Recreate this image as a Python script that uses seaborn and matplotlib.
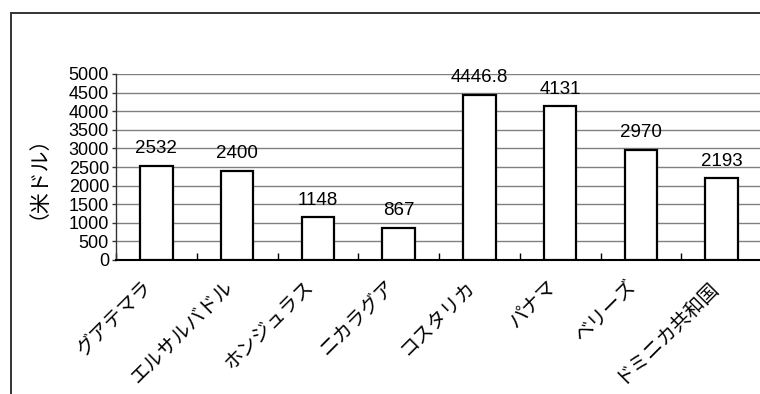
import matplotlib
matplotlib.use("Agg")
import matplotlib.pyplot as plt
import matplotlib.transforms as mtransforms
import seaborn as sns
import pandas as pd
from matplotlib.patches import Rectangle
from matplotlib.ticker import FixedLocator

countries = ["グアテマラ", "エルサルバドル", "ホンジュラス", "ニカラグア",
             "コスタリカ", "パナマ", "ベリーズ", "ドミニカ共和国"]
values = [2532, 2400, 1148, 867, 4446.8, 4131, 2970, 2193]
value_labels = ["2532", "2400", "1148", "867", "4446.8", "4131", "2970", "2193"]
yticks = [0, 500, 1000, 1500, 2000, 2500, 3000, 3500, 4000, 4500, 5000]
ylabel = "（米ドル）"

sns.set_theme(style="white")
plt.rcParams['font.family'] = ['Liberation Sans', 'Noto Sans CJK JP', 'DejaVu Sans']
plt.rcParams['text.color'] = 'black'
plt.rcParams['xtick.color'] = 'black'
plt.rcParams['ytick.color'] = 'black'
plt.rcParams['axes.labelcolor'] = 'black'

df = pd.DataFrame({"country": countries, "value": values})

fig = plt.figure(figsize=(7.6, 3.94), dpi=100)
ax = fig.add_axes([116/760, 1 - 260/394, (762 - 116)/760, (260 - 74)/394])

# Frame around chart
fig.patches.append(Rectangle((11/760, -0.1), 1.2, 1 - 13/394 + 0.1,
                             transform=fig.transFigure, fill=False,
                             edgecolor='#333333', linewidth=1.4, zorder=0))

sns.barplot(data=df, x="country", y="value", ax=ax, color="white",
            edgecolor="black", linewidth=1.6, width=0.4, saturation=1, zorder=3)

ax.set_ylim(0, 5000)
ax.set_xlim(-0.5, len(countries) - 0.5)
ax.set_yticks(yticks)
ax.set_yticklabels([str(t) for t in yticks], fontsize=13)
ax.yaxis.grid(True, color='#808080', linewidth=1)
ax.set_axisbelow(True)

for sp in ['top', 'right']:
    ax.spines[sp].set_visible(False)
ax.spines['left'].set_color('#333333')
ax.spines['bottom'].set_color('black')
ax.spines['left'].set_linewidth(1)
ax.spines['bottom'].set_linewidth(1.5)

ax.tick_params(axis='y', which='major', left=True, length=3, width=1,
               color='#333333', pad=2, direction='out')
ax.tick_params(axis='x', which='major', bottom=False, length=0, pad=17)
ax.xaxis.set_minor_locator(FixedLocator([i + 0.5 for i in range(-1, len(countries))]))
ax.tick_params(axis='x', which='minor', bottom=True, direction='in',
               length=5, width=1, color='black')

ax.set_xticks(range(len(countries)))
ax.set_xticklabels(countries, rotation=45, ha='right', va='center',
                   rotation_mode='anchor', fontsize=14,
                   family=['Noto Sans CJK JP', 'DejaVu Sans'])
offset = mtransforms.ScaledTranslation(-7/100, 0, fig.dpi_scale_trans)
for lab in ax.get_xticklabels():
    lab.set_transform(lab.get_transform() + offset)
ax.set_xlabel("")
ax.set_ylabel(ylabel, fontsize=15, family=['Noto Sans CJK JP', 'DejaVu Sans'])
ax.yaxis.set_label_coords(-0.12, 0.5)

for i, (v, lab) in enumerate(zip(values, value_labels)):
    ax.annotate(lab, (i, v), xytext=(0, 6), textcoords='offset points',
                ha='center', va='bottom', fontsize=13.5, zorder=5)

fig.savefig("out.png", dpi=100)
